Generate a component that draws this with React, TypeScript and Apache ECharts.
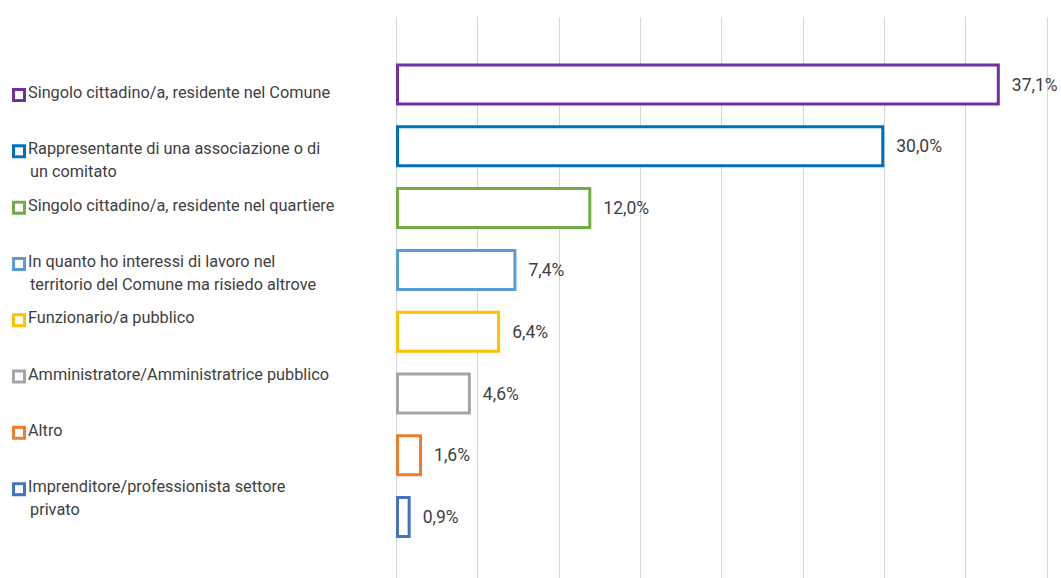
import React, { useEffect, useRef } from "react";
import * as echarts from "echarts";

const categories: string[] = [
  "Singolo cittadino/a, residente nel Comune",
  "Rappresentante di una associazione o di\nun comitato",
  "Singolo cittadino/a, residente nel quartiere",
  "In quanto ho interessi di lavoro nel\nterritorio del Comune ma risiedo altrove",
  "Funzionario/a pubblico",
  "Amministratore/Amministratrice pubblico",
  "Altro",
  "Imprenditore/professionista settore\nprivato",
];

const values: number[] = [37.1, 30.0, 12.0, 7.4, 6.4, 4.6, 1.6, 0.9];

const colors: string[] = [
  "#7030A0",
  "#0070C0",
  "#70AD47",
  "#5B9BD5",
  "#FFC000",
  "#A5A5A5",
  "#ED7D31",
  "#4472C4",
];

const axisMin = 0;
const axisMax = 40;
const axisInterval = 5;

const FONT = "Roboto";
const TEXT_COLOR = "#404040";

export default function App() {
  const ref = useRef<HTMLDivElement>(null);

  useEffect(() => {
    if (!ref.current) return;
    const chart = echarts.init(ref.current, undefined, { renderer: "svg" });

    const rich: Record<string, any> = {
      t1: {
        fontFamily: FONT,
        fontSize: 16.3,
        color: TEXT_COLOR,
        lineHeight: 21,
        verticalAlign: "top",
      },
      t2: { fontFamily: FONT, fontSize: 16.3, color: TEXT_COLOR, lineHeight: 20 },
      g: { width: 5, height: 8, lineHeight: 21 },
      i: { width: 15, height: 8, lineHeight: 20 },
    };
    colors.forEach((c, i) => {
      rich["m" + i] = {
        width: 8,
        height: 8,
        lineHeight: 21,
        backgroundColor: "#fff",
        borderColor: c,
        borderWidth: 3,
      };
    });

    const option: any = {
      animation: false,
      grid: [
        { left: 396, right: 14, top: 53.6, height: 494.4 },
        { left: 396, right: 14, top: 17, bottom: 0 },
        { left: 15, width: 10, top: 56.4, height: 450.4 },
      ],
      xAxis: [
        {
          gridIndex: 0,
          type: "value",
          min: axisMin,
          max: axisMax,
          interval: axisInterval,
          show: false,
        },
        {
          gridIndex: 1,
          type: "value",
          min: axisMin,
          max: axisMax,
          interval: axisInterval,
          axisLine: { show: false },
          axisTick: { show: false },
          axisLabel: { show: false },
          splitLine: { show: true, lineStyle: { color: "#d6d6d6", width: 1 } },
        },
        {
          gridIndex: 2,
          type: "value",
          show: false,
        },
      ],
      yAxis: [
        {
          gridIndex: 0,
          type: "category",
          data: categories,
          inverse: true,
          show: false,
        },
        {
          gridIndex: 1,
          type: "category",
          data: [""],
          show: false,
        },
        {
          gridIndex: 2,
          type: "category",
          data: categories,
          inverse: true,
          axisLine: { show: false },
          axisTick: { show: false },
          splitLine: { show: false },
          axisLabel: {
            show: true,
            margin: 0,
            align: "left",
            verticalAlign: "top",
            interval: 0,
            formatter: (value: string, index: number) => {
              const lines = value.split("\n");
              return lines
                .map((l, k) =>
                  k === 0 ? `{m${index}|}{g|}{t1|${l}}` : `{i|}{t2|${l}}`
                )
                .join("\n");
            },
            rich,
          },
        },
      ],
      series: [
        {
          type: "bar",
          xAxisIndex: 0,
          yAxisIndex: 0,
          barWidth: 42,
          data: values.map((v, i) => ({
            value: v,
            itemStyle: {
              color: "#ffffff",
              borderColor: colors[i],
              borderWidth: 3,
            },
          })),
          label: {
            show: true,
            position: "right",
            distance: 12,
            fontFamily: FONT,
            fontSize: 17.5,
            color: TEXT_COLOR,
            formatter: (p: any) => p.value.toFixed(1).replace(".", ",") + "%",
          },
        },
      ],
    };

    chart.setOption(option);
    return () => chart.dispose();
  }, []);

  return (
    <div
      ref={ref}
      style={{ position: "fixed", left: 0, top: 0, width: 1061, height: 578, background: "#fff" }}
    />
  );
}
